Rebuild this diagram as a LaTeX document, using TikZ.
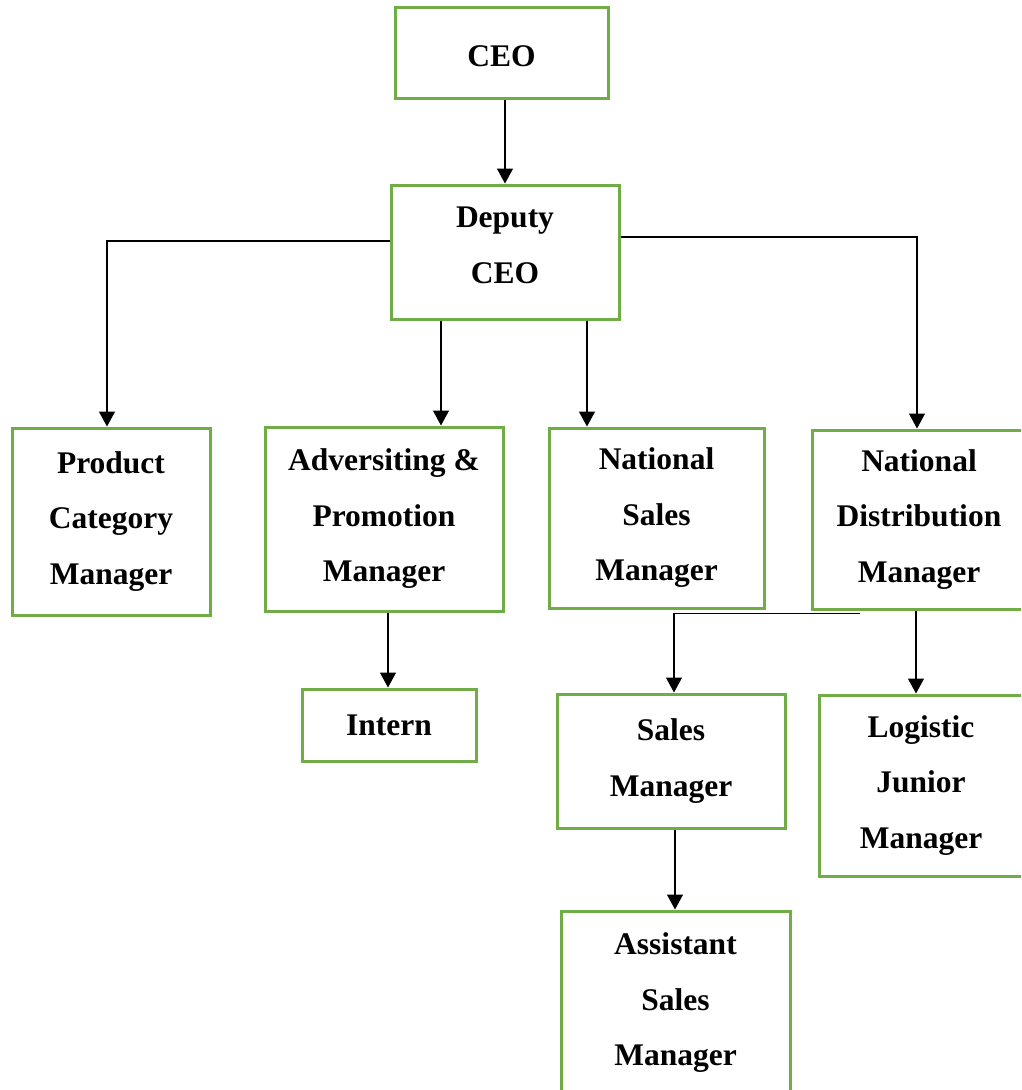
\documentclass[tikz,border=0pt]{standalone}
\usepackage{fontspec}
\setmainfont{Liberation Serif}
\usetikzlibrary{arrows.meta}
\definecolor{boxgreen}{RGB}{112,173,71}

\begin{document}
\begin{tikzpicture}
        [x=1pt,y=-1pt,
        box/.style={draw=boxgreen,line width=3pt,rectangle,inner sep=0,align=center,font=\fontsize{31.5}{55.5}\selectfont\bfseries},
        link/.style={line width=1.3pt,black,-{Triangle[width=16pt,length=15pt]}}]

        \clip (0,0) rectangle (1021,1090);

        \node[box,minimum width=213pt,minimum height=91pt] (ceo) at (501.5,52.5) {\rule{0pt}{28pt}CEO};
        \node[box,minimum width=228pt,minimum height=134pt] (dep) at (505,252) {Deputy\\CEO\rule[-14pt]{0pt}{14pt}};
        \node[box,minimum width=198pt,minimum height=187pt] (pcm) at (111,521.5) {Product\\Category\\Manager};
        \node[box,minimum width=238pt,minimum height=184pt] (adv) at (384,519) {Adversiting \&\\Promotion\\Manager};
        \node[box,minimum width=215pt,minimum height=180pt] (nsm) at (656.5,518) {National\\Sales\\Manager};
        \node[box,minimum width=214pt,minimum height=179pt] (nd) at (919,519.5) {National\\Distribution\\Manager};
        \node[box,minimum width=174pt,minimum height=72pt] (intern) at (389,725) {Intern};
        \node[box,minimum width=228pt,minimum height=134pt] (sm) at (671,761) {Sales\\Manager};
        \node[box,minimum width=204pt,minimum height=181pt] (lj) at (921,785.5) {Logistic\\Junior\\Manager};
        \node[box,minimum width=229pt,minimum height=184pt] (asm) at (675.5,1003) {Assistant\\Sales\\Manager};

        \draw[link] (ceo.south -| dep.north) -- (dep.north);
        \draw[link] ([yshift=11pt]dep.west) -| ([xshift=-4pt]pcm.north);
        \draw[link] ([xshift=-64pt]dep.south) -- ([xshift=-64pt]dep.south |- adv.north);
        \draw[link] ([xshift=82pt]dep.south) -- ([xshift=82pt]dep.south |- nsm.north);
        \draw[link] ([yshift=15pt]dep.east) -| ([xshift=-2pt]nd.north);
        \draw[link] ([xshift=4pt]adv.south) -- ([xshift=4pt]adv.south |- intern.north);
        \draw[link] ([xshift=-59pt,yshift=-3pt]nd.south) -| ([xshift=3pt]sm.north);
        \draw[link] ([xshift=-3pt]nd.south) -- ([xshift=-3pt]nd.south |- lj.north);
        \draw[link] ([xshift=4pt]sm.south) -- ([xshift=4pt]sm.south |- asm.north);
      \end{tikzpicture}
\end{document}
